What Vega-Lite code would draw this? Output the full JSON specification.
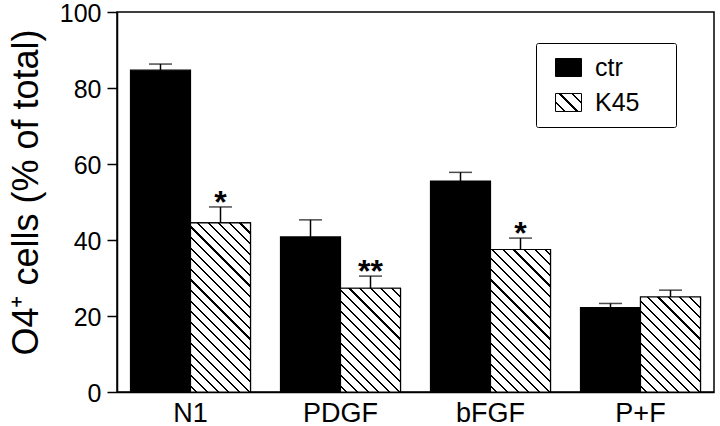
{
  "$schema": "https://vega.github.io/schema/vega-lite/v6.json",
  "width": 597,
  "height": 380,
  "autosize": {"type": "none"},
  "padding": {"left": 117, "top": 12, "right": 6, "bottom": 34},
  "background": "white",
  "config": {
    "font": "Liberation Sans",
    "view": {"stroke": "black", "strokeWidth": 1.5},
    "axis": {"grid": false, "domainColor": "black", "domainWidth": 1.5, "tickColor": "black", "labelColor": "black", "titleColor": "black"}
  },
  "params": [
    {"name": "hatchStops", "value": [
      {"offset": 0, "color": "white"},
      {"offset": 0.0227, "color": "white"}, {"offset": 0.0227, "color": "black"}, {"offset": 0.0318, "color": "black"}, {"offset": 0.0318, "color": "white"},
      {"offset": 0.0682, "color": "white"}, {"offset": 0.0682, "color": "black"}, {"offset": 0.0773, "color": "black"}, {"offset": 0.0773, "color": "white"},
      {"offset": 0.1136, "color": "white"}, {"offset": 0.1136, "color": "black"}, {"offset": 0.1227, "color": "black"}, {"offset": 0.1227, "color": "white"},
      {"offset": 0.1591, "color": "white"}, {"offset": 0.1591, "color": "black"}, {"offset": 0.1682, "color": "black"}, {"offset": 0.1682, "color": "white"},
      {"offset": 0.2045, "color": "white"}, {"offset": 0.2045, "color": "black"}, {"offset": 0.2136, "color": "black"}, {"offset": 0.2136, "color": "white"},
      {"offset": 0.25, "color": "white"}, {"offset": 0.25, "color": "black"}, {"offset": 0.2591, "color": "black"}, {"offset": 0.2591, "color": "white"},
      {"offset": 0.2955, "color": "white"}, {"offset": 0.2955, "color": "black"}, {"offset": 0.3045, "color": "black"}, {"offset": 0.3045, "color": "white"},
      {"offset": 0.3409, "color": "white"}, {"offset": 0.3409, "color": "black"}, {"offset": 0.35, "color": "black"}, {"offset": 0.35, "color": "white"},
      {"offset": 0.3864, "color": "white"}, {"offset": 0.3864, "color": "black"}, {"offset": 0.3955, "color": "black"}, {"offset": 0.3955, "color": "white"},
      {"offset": 0.4318, "color": "white"}, {"offset": 0.4318, "color": "black"}, {"offset": 0.4409, "color": "black"}, {"offset": 0.4409, "color": "white"},
      {"offset": 0.4773, "color": "white"}, {"offset": 0.4773, "color": "black"}, {"offset": 0.4864, "color": "black"}, {"offset": 0.4864, "color": "white"},
      {"offset": 0.5227, "color": "white"}, {"offset": 0.5227, "color": "black"}, {"offset": 0.5318, "color": "black"}, {"offset": 0.5318, "color": "white"},
      {"offset": 0.5682, "color": "white"}, {"offset": 0.5682, "color": "black"}, {"offset": 0.5773, "color": "black"}, {"offset": 0.5773, "color": "white"},
      {"offset": 0.6136, "color": "white"}, {"offset": 0.6136, "color": "black"}, {"offset": 0.6227, "color": "black"}, {"offset": 0.6227, "color": "white"},
      {"offset": 0.6591, "color": "white"}, {"offset": 0.6591, "color": "black"}, {"offset": 0.6682, "color": "black"}, {"offset": 0.6682, "color": "white"},
      {"offset": 0.7045, "color": "white"}, {"offset": 0.7045, "color": "black"}, {"offset": 0.7136, "color": "black"}, {"offset": 0.7136, "color": "white"},
      {"offset": 0.75, "color": "white"}, {"offset": 0.75, "color": "black"}, {"offset": 0.7591, "color": "black"}, {"offset": 0.7591, "color": "white"},
      {"offset": 0.7955, "color": "white"}, {"offset": 0.7955, "color": "black"}, {"offset": 0.8045, "color": "black"}, {"offset": 0.8045, "color": "white"},
      {"offset": 0.8409, "color": "white"}, {"offset": 0.8409, "color": "black"}, {"offset": 0.85, "color": "black"}, {"offset": 0.85, "color": "white"},
      {"offset": 0.8864, "color": "white"}, {"offset": 0.8864, "color": "black"}, {"offset": 0.8955, "color": "black"}, {"offset": 0.8955, "color": "white"},
      {"offset": 0.9318, "color": "white"}, {"offset": 0.9318, "color": "black"}, {"offset": 0.9409, "color": "black"}, {"offset": 0.9409, "color": "white"},
      {"offset": 0.9773, "color": "white"}, {"offset": 0.9773, "color": "black"}, {"offset": 0.9864, "color": "black"}, {"offset": 0.9864, "color": "white"},
      {"offset": 1, "color": "white"}
    ]},
    {"name": "legendGrad", "value": {
      "gradient": "linear", "x1": 0, "y1": 1, "x2": 1.1435, "y2": 0.2083,
      "stops": [
        {"offset": 0, "color": "white"},
        {"offset": 0.19, "color": "white"}, {"offset": 0.19, "color": "black"}, {"offset": 0.24, "color": "black"}, {"offset": 0.24, "color": "white"},
        {"offset": 0.475, "color": "white"}, {"offset": 0.475, "color": "black"}, {"offset": 0.525, "color": "black"}, {"offset": 0.525, "color": "white"},
        {"offset": 0.76, "color": "white"}, {"offset": 0.76, "color": "black"}, {"offset": 0.81, "color": "black"}, {"offset": 0.81, "color": "white"},
        {"offset": 1, "color": "white"}
      ]
    }}
  ],
  "data": {"values": [
    {"group": "N1", "cond": "ctr", "value": 84.7, "hi": 86.3, "sig": ""},
    {"group": "N1", "cond": "K45", "value": 44.5, "hi": 48.7, "sig": "*"},
    {"group": "PDGF", "cond": "ctr", "value": 40.8, "hi": 45.3, "sig": ""},
    {"group": "PDGF", "cond": "K45", "value": 27.3, "hi": 30.5, "sig": "**"},
    {"group": "bFGF", "cond": "ctr", "value": 55.5, "hi": 57.8, "sig": ""},
    {"group": "bFGF", "cond": "K45", "value": 37.5, "hi": 40.5, "sig": "*"},
    {"group": "P+F", "cond": "ctr", "value": 22.2, "hi": 23.3, "sig": ""},
    {"group": "P+F", "cond": "K45", "value": 25.0, "hi": 26.8, "sig": ""}
  ]},
  "encoding": {
    "x": {
      "field": "group", "type": "nominal", "sort": ["N1", "PDGF", "bFGF", "P+F"],
      "scale": {"paddingInner": 0.2, "paddingOuter": 0.09},
      "axis": {"title": null, "labelAngle": 0, "ticks": false, "labelFontSize": 27, "labelPadding": 8}
    },
    "xOffset": {"field": "cond", "type": "nominal", "sort": ["ctr", "K45"]}
  },
  "layer": [
    {
      "mark": {"type": "bar", "stroke": "black", "strokeWidth": 1.2},
      "encoding": {
        "y": {
          "field": "value", "type": "quantitative",
          "scale": {"domain": [0, 100]},
          "axis": {
            "title": "O4⁺ cells (% of total)", "titleFontSize": 36, "titleFontWeight": "normal",
            "titlePadding": 14, "titleY": 180,
            "values": [0, 20, 40, 60, 80, 100], "tickSize": 10, "tickWidth": 1.5,
            "labelFontSize": 25, "labelPadding": 6, "labelOffset": 1
          }
        },
        "fill": {
          "field": "cond", "type": "nominal", "sort": ["ctr", "K45"],
          "scale": {"domain": ["ctr", "K45"], "range": ["black", {"expr": "legendGrad"}]},
          "legend": {
            "orient": "none", "legendX": 419, "legendY": 31, "title": null,
            "fillColor": "white", "strokeColor": "black", "cornerRadius": 2,
            "padding": 11, "labelFontSize": 25, "labelColor": "black", "labelOffset": 13,
            "symbolType": "M-1,-0.69L1,-0.69L1,0.69L-1,0.69Z", "symbolSize": 676, "symbolOffset": 8,
            "symbolStrokeColor": "black", "symbolStrokeWidth": 1, "rowPadding": 8,
            "labelExpr": "datum.label + '\u00a0\u2800'"
          }
        }
      }
    },
    {
      "transform": [{"filter": "datum.cond === 'K45'"}],
      "mark": {
        "type": "bar", "stroke": "black", "strokeWidth": 1.2,
        "fill": {"expr": "{gradient: 'linear', x1: 0, y1: 1, x2: 233.35 * 60 / (3600 + pow(3.8 * datum.value, 2)), y2: 1 - 233.35 * 3.8 * datum.value / (3600 + pow(3.8 * datum.value, 2)), stops: hatchStops}"}
      },
      "encoding": {"y": {"field": "value", "type": "quantitative"}}
    },
    {
      "mark": {"type": "rule", "strokeWidth": 1.5, "color": "black"},
      "encoding": {"y": {"field": "value", "type": "quantitative"}, "y2": {"field": "hi"}}
    },
    {
      "mark": {"type": "tick", "orient": "horizontal", "size": 23, "thickness": 1.5, "color": "black"},
      "encoding": {"y": {"field": "hi", "type": "quantitative"}}
    },
    {
      "mark": {"type": "text", "fontSize": 32, "fontWeight": "bold", "dy": 6, "baseline": "alphabetic", "color": "black"},
      "encoding": {"y": {"field": "hi", "type": "quantitative"}, "text": {"field": "sig"}}
    }
  ]
}
